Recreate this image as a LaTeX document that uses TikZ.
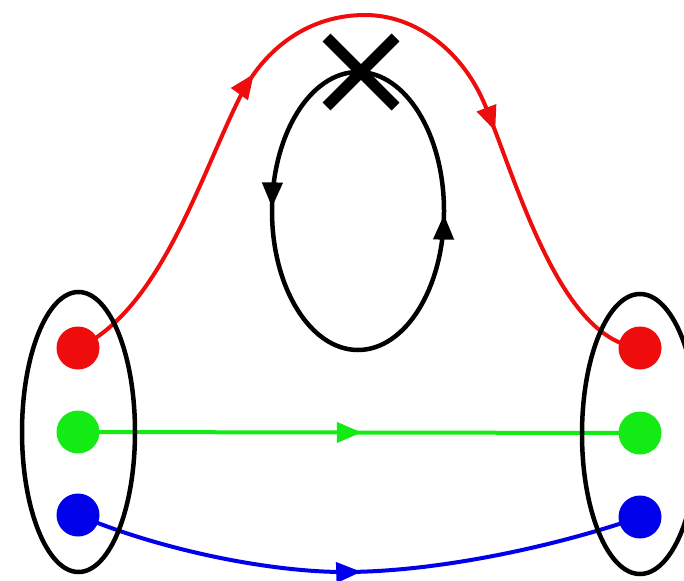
\documentclass[tikz,border=0pt]{standalone}
\usetikzlibrary{shapes.geometric,shapes.misc,arrows.meta,decorations.markings}
\definecolor{cRed}{RGB}{238,12,12}
\definecolor{cGreen}{RGB}{20,235,20}
\definecolor{cBlue}{RGB}{0,0,235}
\tikzset{ktip/.tip={Triangle[length=25pt,width=20pt]}}
\begin{document}
\begin{tikzpicture}[x=1pt,y=-1pt,
  dot/.style={circle,inner sep=0pt,minimum size=43pt,fill=#1},
  group/.style={ellipse,draw=black,line width=4.5pt,inner sep=0pt,minimum width=113pt,minimum height=280pt},
  arrowat/.style={postaction={decorate},decoration={markings,mark=at position #1 with {\arrow{ktip}}}},
  arrowattwo/.style 2 args={postaction={decorate},decoration={markings,mark=at position #1 with {\arrow{ktip}},mark=at position #2 with {\arrow{ktip}}}},
  wire/.style={line width=4pt,draw=#1}
]
\useasboundingbox (0,0) rectangle (684,580);

\coordinate (rlc) at (78,348);
\coordinate (glc) at (78,432);
\coordinate (blc) at (78,515);
\coordinate (rrc) at (640,348);
\coordinate (grc) at (640,433);
\coordinate (brc) at (640,517);

% connectors
\draw[wire=cRed,arrowattwo={0.36}{0.705}] (rlc) .. controls (160,310) and (200,177) .. (240,97)
   .. controls (265,47) and (310,15) .. (365,15)
   .. controls (415,15) and (462,50) .. (485,105)
   .. controls (518,185) and (560,340) .. (rrc);
\draw[wire=cGreen,arrowat=0.505] (glc) -- (grc);
\draw[wire=cBlue,arrowat=0.505] (blc) .. controls (160,550) and (270,572) .. (344,572)
   .. controls (440,572) and (560,545) .. (brc);

% groups
\node[group] (gl) at (78.5,432) {};
\node[group,minimum width=116pt] (gr) at (640,434) {};

% dots
\node[dot=cRed] (rl) at (rlc) {};
\node[dot=cGreen] (gl2) at (glc) {};
\node[dot=cBlue] (bl) at (blc) {};
\node[dot=cRed] (rr) at (rrc) {};
\node[dot=cGreen] (gr2) at (grc) {};
\node[dot=cBlue] (br) at (brc) {};

% loop
\coordinate (looptop) at (358,72);
\draw[line width=4.5pt,arrowattwo={0.245}{0.745}] (looptop) arc[start angle=-90,end angle=-450,x radius=86,y radius=139];

% cross
\node[cross out,draw=black,line width=11pt,minimum size=58pt,inner sep=0pt] (x) at (361,72) {};
\end{tikzpicture}
\end{document}
